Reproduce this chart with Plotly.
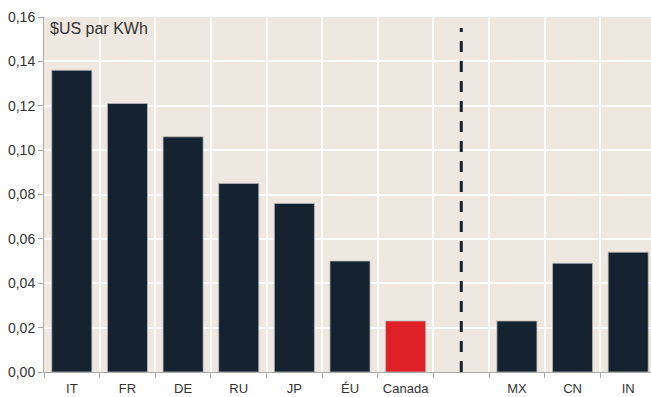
import plotly.graph_objects as go

# Electricity price by country, $US per kWh
countries = ["IT", "FR", "DE", "RU", "JP", "ÉU", "Canada", " ", "MX", "CN", "IN"]
prices = [0.136, 0.121, 0.106, 0.085, 0.076, 0.050, 0.023, None, 0.023, 0.049, 0.054]
y_ticks = [0.00, 0.02, 0.04, 0.06, 0.08, 0.10, 0.12, 0.14, 0.16]
separator_top = 0.155

navy = "#14232F"
red = "#E02027"
colors = [red if c == "Canada" else navy for c in countries]

fig = go.Figure()
fig.add_trace(go.Bar(
    x=countries, y=prices,
    marker=dict(color=colors, line=dict(color="#B8B8B8", width=0.8)),
    width=0.72, hoverinfo="x+y",
))
# dashed separator between the two country groups
fig.add_trace(go.Scatter(
    x=[" ", " "], y=[0, separator_top], mode="lines",
    line=dict(color=navy, width=3, dash="11px,9px"),
    hoverinfo="skip",
))

fig.update_layout(
    width=651, height=397,
    margin=dict(l=44, r=0, t=17, b=25, autoexpand=False),
    paper_bgcolor="white",
    plot_bgcolor="#EEE8E0",
    separators=", ",
    showlegend=False,
    font=dict(family="Liberation Sans, Arial, sans-serif", size=13, color="#333333"),
    bargap=0.28,
)
fig.update_xaxes(
    type="category", categoryorder="array", categoryarray=countries,
    range=[-0.5, 10.41], automargin=False, tickangle=0,
    tickson="boundaries", ticks="outside", ticklen=5, tickcolor="#AAAAAA",
    ticklabelstandoff=4,
    showgrid=True, gridcolor="white", gridwidth=1.5,
    showline=True, linecolor="#AAAAAA", linewidth=1,
    tickfont=dict(size=13, color="#333333"),
)
fig.update_yaxes(
    range=[0, 0.16], tickvals=y_ticks, tickformat=".2f", automargin=False,
    ticks="outside", ticklen=5, tickcolor="#AAAAAA",
    showgrid=True, gridcolor="white", gridwidth=1.5,
    showline=True, linecolor="#AAAAAA", linewidth=1,
    zeroline=False,
    tickfont=dict(size=14, color="#333333"),
)
fig.add_annotation(
    text="$US par KWh", xref="paper", yref="paper",
    x=0.0, y=1.0, xanchor="left", yanchor="top", xshift=4, yshift=-1,
    showarrow=False, font=dict(size=16, color="#333333"),
)

fig.write_html("out.html")
